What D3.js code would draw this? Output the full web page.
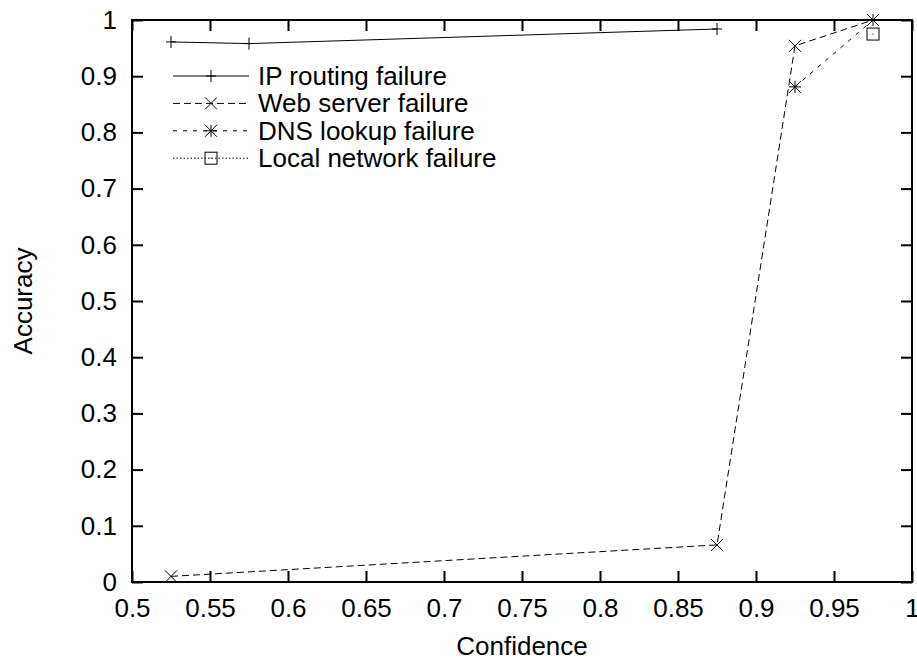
<!DOCTYPE html>
<html>
<head>
<meta charset="utf-8">
<script src="https://cdn.jsdelivr.net/npm/d3@7"></script>
<style>
  body { margin: 0; background: #fff; }
  text { font-family: "Liberation Sans", Arial, sans-serif; font-size: 26px; fill: #000; }
</style>
</head>
<body>
<svg id="chart" width="917" height="659"></svg>
<script>
// tick values and labels
const xTicks = [0.5, 0.55, 0.6, 0.65, 0.7, 0.75, 0.8, 0.85, 0.9, 0.95, 1];
const xTickLabels = ['0.5', '0.55', '0.6', '0.65', '0.7', '0.75', '0.8', '0.85', '0.9', '0.95', '1'];
const yTicks = [0, 0.1, 0.2, 0.3, 0.4, 0.5, 0.6, 0.7, 0.8, 0.9, 1];
const yTickLabels = ['0', '0.1', '0.2', '0.3', '0.4', '0.5', '0.6', '0.7', '0.8', '0.9', '1'];

// series
const seriesNames = ['IP routing failure', 'Web server failure', 'DNS lookup failure', 'Local network failure'];
const ipConf = [0.525, 0.575, 0.875];
const ipAcc = [0.961, 0.958, 0.984];
const webConf = [0.525, 0.875, 0.925, 0.975];
const webAcc = [0.010, 0.066, 0.954, 1.0];
const dnsConf = [0.925, 0.975];
const dnsAcc = [0.881, 1.0];
const localConf = [0.975];
const localAcc = [0.975];

const svg = d3.select('#chart');
const plotLeft = 132, plotRight = 912, plotTop = 20, plotBottom = 582;

const x = d3.scaleLinear().domain([0.5, 1]).range([plotLeft, plotRight]);
const y = d3.scaleLinear().domain([0, 1]).range([plotBottom, plotTop]);

// frame
svg.append('rect')
  .attr('x', plotLeft).attr('y', plotTop)
  .attr('width', plotRight - plotLeft).attr('height', plotBottom - plotTop)
  .attr('fill', 'none').attr('stroke', '#000').attr('stroke-width', 2);

// axes: gnuplot style inward ticks, mirrored
const tickLen = 11;
const fmtX = d => xTickLabels[xTicks.indexOf(d)];
const fmtY = d => yTickLabels[yTicks.indexOf(d)];

function styleAxis(g) {
  g.select('.domain').remove();
  g.selectAll('.tick line').attr('stroke', '#000').attr('stroke-width', 2);
  g.selectAll('.tick text')
    .style('font-family', '"Liberation Sans", Arial, sans-serif')
    .style('font-size', '26px').attr('fill', '#000');
}

svg.append('g')
  .attr('transform', `translate(0,${plotBottom})`)
  .call(d3.axisBottom(x).tickValues(xTicks).tickFormat(fmtX).tickSizeInner(-tickLen).tickSizeOuter(0).tickPadding(17))
  .call(styleAxis);

svg.append('g')
  .attr('transform', `translate(0,${plotTop})`)
  .call(d3.axisTop(x).tickValues(xTicks).tickFormat('').tickSizeInner(-tickLen).tickSizeOuter(0))
  .call(styleAxis);

svg.append('g')
  .attr('transform', `translate(${plotLeft},0)`)
  .call(d3.axisLeft(y).tickValues(yTicks).tickFormat(fmtY).tickSizeInner(-tickLen).tickSizeOuter(0).tickPadding(15))
  .call(styleAxis);

svg.append('g')
  .attr('transform', `translate(${plotRight},0)`)
  .call(d3.axisRight(y).tickValues(yTicks).tickFormat('').tickSizeInner(-tickLen).tickSizeOuter(0))
  .call(styleAxis);

// axis titles
svg.append('text')
  .attr('x', (plotLeft + plotRight) / 2).attr('y', 655)
  .attr('text-anchor', 'middle')
  .text('Confidence');

svg.append('text')
  .attr('transform', 'translate(32,301) rotate(-90)')
  .attr('text-anchor', 'middle')
  .text('Accuracy');

// markers
function drawMarker(g, type, cx, cy) {
  const s = 6;
  if (type === 'plus') {
    g.append('path').attr('d', `M${cx - 5},${cy}H${cx + 5}M${cx},${cy - 6}V${cy + 6}`);
  } else if (type === 'cross') {
    g.append('path').attr('d', `M${cx - s},${cy - s}L${cx + s},${cy + s}M${cx - s},${cy + s}L${cx + s},${cy - s}`);
  } else if (type === 'star') {
    g.append('path').attr('d', `M${cx - s},${cy - s}L${cx + s},${cy + s}M${cx - s},${cy + s}L${cx + s},${cy - s}M${cx - s},${cy}H${cx + s}M${cx},${cy - s}V${cy + s}`);
  } else if (type === 'box') {
    g.append('rect').attr('x', cx - s).attr('y', cy - s).attr('width', 2 * s).attr('height', 2 * s);
    g.append('rect').attr('x', cx - 0.5).attr('y', cy - 0.5).attr('width', 1).attr('height', 1)
      .attr('fill', '#000').attr('stroke', 'none');
  }
}

const series = [
  { name: seriesNames[0], xs: ipConf, ys: ipAcc, dash: null, marker: 'plus' },
  { name: seriesNames[1], xs: webConf, ys: webAcc, dash: '7,4', marker: 'cross' },
  { name: seriesNames[2], xs: dnsConf, ys: dnsAcc, dash: '4,6', marker: 'star' },
  { name: seriesNames[3], xs: localConf, ys: localAcc, dash: '1.5,2', marker: 'box' }
];

const line = d3.line().x(d => x(d[0])).y(d => y(d[1]));

series.forEach(s => {
  const pts = s.xs.map((v, i) => [v, s.ys[i]]);
  const g = svg.append('g').attr('fill', 'none').attr('stroke', '#000').attr('stroke-width', 1);
  if (pts.length > 1) {
    g.append('path').attr('d', line(pts)).attr('stroke-dasharray', s.dash);
  }
  pts.forEach(p => drawMarker(g, s.marker, x(p[0]), y(p[1])));
});

// legend
const legX0 = 173, legX1 = 249, legTextX = 258, legY0 = 76, legStep = 27.4;
series.forEach((s, i) => {
  const ly = legY0 + i * legStep;
  const g = svg.append('g').attr('fill', 'none').attr('stroke', '#000').attr('stroke-width', 1);
  g.append('line').attr('x1', legX0).attr('x2', legX1).attr('y1', ly).attr('y2', ly)
    .attr('stroke-dasharray', s.dash);
  drawMarker(g, s.marker, (legX0 + legX1) / 2, ly);
  svg.append('text').attr('x', legTextX).attr('y', ly + 9).text(s.name);
});
</script>
</body>
</html>
